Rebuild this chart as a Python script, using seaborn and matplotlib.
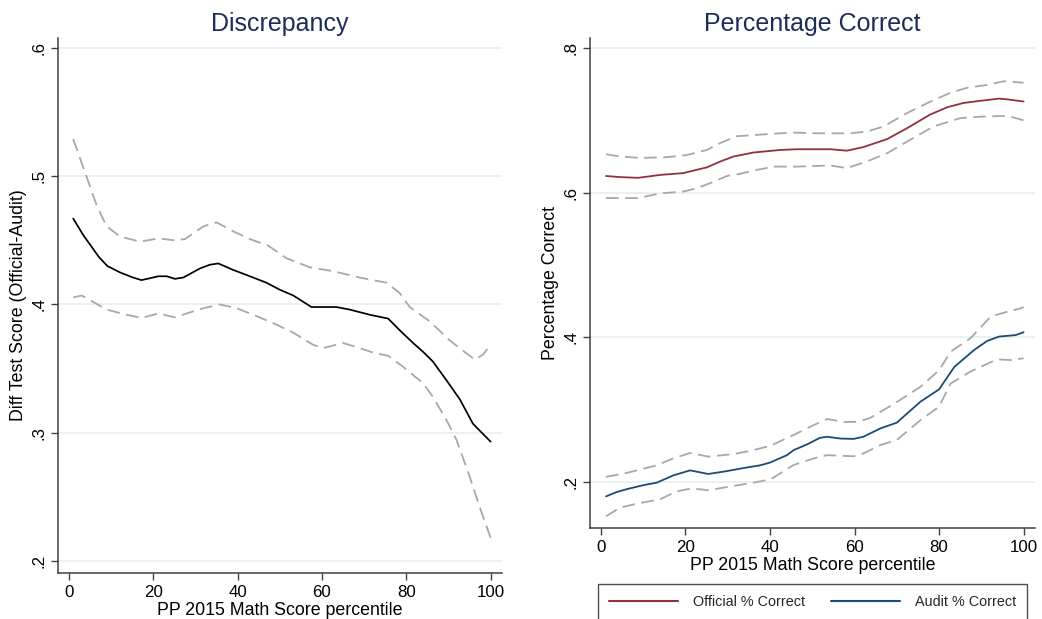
import numpy as np
import pandas as pd
import matplotlib
matplotlib.use("Agg")
import matplotlib.pyplot as plt
from matplotlib.lines import Line2D
from matplotlib.ticker import FuncFormatter, MultipleLocator
import seaborn as sns

# ---- Discrepancy (Official - Audit) by PP 2015 math percentile ----
disc_x = [1, 3.4, 7.1, 9.1, 12.1, 15.2, 17.2, 21.2, 23.2, 25.1, 27.1, 31, 33.4, 35.4,
          38.9, 42.9, 46.8, 50, 53.2, 57.5, 59.5, 63.4, 66.6, 71.3, 75.7, 78.4, 81.6,
          84, 86.3, 89.5, 92.7, 95.8, 100]
disc_y = [.467, .454, .437, .430, .425, .421, .419, .422, .422, .420, .421, .428, .431,
          .432, .427, .422, .417, .4115, .407, .398, .398, .398, .396, .392, .389, .380,
          .370, .363, .3555, .341, .326, .307, .293]

disc_hi_x = [1, 3.8, 6.6, 8.9, 12.1, 16.8, 21.2, 25.1, 27.5, 31.9, 35, 39, 42.9, 47.2,
             51.6, 57.1, 62.6, 68.9, 75.3, 78.4, 80.8, 85.5, 90.3, 94.2, 96.3, 98.2, 100]
disc_hi_y = [.529, .503, .477, .461, .453, .449, .4515, .450, .451, .461, .464, .457,
             .451, .446, .436, .429, .426, .421, .417, .409, .398, .387, .372, .362,
             .357, .361, .3685]

disc_lo_x = [1, 3, 6, 8.9, 13.7, 17.2, 21.2, 25.1, 27.9, 31.8, 35.8, 39.8, 43.7, 48.4,
             53.2, 57.9, 60.3, 65, 68.9, 72.1, 75.7, 79.2, 84, 86.3, 89.5, 91.9, 95,
             97.4, 100]
disc_lo_y = [.4055, .407, .4015, .396, .392, .3895, .393, .390, .393, .397, .400, .397,
             .392, .3855, .378, .3685, .366, .370, .366, .3625, .360, .3515, .3385,
             .328, .310, .2945, .266, .242, .218]

# ---- Percentage correct: official ----
off_x = [1.2, 4.5, 8.8, 14, 19.5, 21.9, 25.1, 28.2, 31.4, 36.1, 42.4, 46.4, 54.3, 58.2,
         62.1, 67.7, 72.4, 77.9, 81.9, 85.8, 89.8, 94.2, 96.1, 100]
off_y = [.623, .6215, .6205, .6245, .627, .6305, .635, .643, .650, .6555, .659, .660,
         .660, .658, .663, .674, .689, .708, .718, .724, .727, .730, .729, .726]

off_hi_x = [1.2, 4.5, 9.2, 15.6, 20.3, 25.1, 28.2, 32.1, 36.1, 40.8, 45.5, 51.8, 58.9,
            62.9, 66.9, 72.4, 78.7, 82.7, 86.6, 91.4, 95.3, 100]
off_hi_y = [.653, .650, .648, .649, .652, .659, .6685, .678, .6795, .6815, .683, .682,
            .682, .6845, .6915, .710, .728, .738, .745, .749, .754, .752]

off_lo_x = [1.2, 8.8, 14, 19.5, 22.6, 25.8, 29.8, 32.9, 36.1, 40.8, 46.4, 54.3, 58.2,
            62.9, 67.7, 72.4, 78.7, 85, 89.8, 94.9, 97.3, 100]
off_lo_y = [.5925, .5925, .599, .6015, .606, .613, .623, .626, .6305, .636, .636, .6375,
            .634, .643, .6545, .6705, .6915, .703, .705, .706, .7045, .700]

# ---- Percentage correct: audit ----
aud_x = [1.2, 3.7, 6.1, 10, 13.2, 17.1, 21.1, 25.4, 29.8, 34.5, 37.7, 40.1, 44, 45.6,
         48.8, 51.8, 53.5, 56.6, 59.8, 62.1, 66.1, 70, 75.6, 80, 83.6, 88.3, 91.4, 94.2,
         98.1, 100]
aud_y = [.180, .186, .190, .1955, .199, .209, .216, .211, .215, .220, .223, .227, .237,
         .244, .252, .261, .2625, .260, .2595, .2625, .274, .282, .311, .328, .359,
         .3825, .395, .401, .403, .407]

aud_hi_x = [1.2, 6.1, 13.2, 17.1, 21.1, 25.4, 31.4, 36.1, 40.1, 45.6, 50.3, 53.5, 57.4,
            60.6, 63.7, 69.2, 75.6, 80, 82.7, 87.4, 92.2, 95.3, 99.3, 100]
aud_hi_y = [.207, .2125, .223, .2325, .240, .235, .2385, .244, .250, .265, .2785, .287,
            .283, .283, .2885, .3075, .3315, .3545, .380, .3985, .4285, .434, .440, .442]

aud_lo_x = [1.2, 4.5, 8.5, 14, 17.9, 21.5, 25.4, 29.8, 36.1, 40.1, 45.6, 50.3, 53.5,
            59.8, 62.1, 66.1, 70, 75.6, 80, 82.7, 87.4, 93.7, 96.9, 100]
aud_lo_y = [.1525, .1645, .170, .176, .187, .191, .1885, .193, .199, .2035, .2235, .2325,
            .237, .2355, .2395, .251, .258, .2855, .304, .336, .3525, .3695, .3685, .371]

titles = ["Discrepancy", "Percentage Correct"]
xlabel = "PP 2015 Math Score percentile"
ylabels = ["Diff Test Score (Official-Audit)", "Percentage Correct"]
legend_labels = ["Official % Correct", "Audit % Correct"]

# ---- style ----
sns.set_theme(style="white")
plt.rcParams["font.family"] = ["Liberation Sans", "DejaVu Sans"]

TITLE_C = "#1c2d58"
RED = "#93303d"
BLUE = "#1d4a73"
CI_C = "#a8a8a8"
GRID_C = "#e4edf0"
SPINE_C = "#404040"
DASH = (0, (7, 3.6))

fig = plt.figure(figsize=(10.42, 6.19), dpi=100)
ax1 = fig.add_axes([0.0557, 0.0743, 0.4261, 0.8643])
ax2 = fig.add_axes([0.5662, 0.1470, 0.4271, 0.7916])


def style_axes(ax, ylim, ystep, title, ylabel):
    ax.set_xlim(-2.6, 102.7)
    ax.set_ylim(*ylim)
    ax.xaxis.set_major_locator(MultipleLocator(20))
    ax.yaxis.set_major_locator(MultipleLocator(ystep))
    ax.yaxis.set_major_formatter(FuncFormatter(lambda v, p: f"{v:.1f}".lstrip("0")))
    ax.xaxis.set_major_formatter(FuncFormatter(lambda v, p: f"{v:.0f}"))
    ax.grid(axis="y", color=GRID_C, linewidth=1.1)
    ax.grid(axis="x", visible=False)
    ax.set_axisbelow(True)
    for s in ["top", "right"]:
        ax.spines[s].set_visible(False)
    for s in ["left", "bottom"]:
        ax.spines[s].set_color(SPINE_C)
        ax.spines[s].set_linewidth(1.1)
    ax.tick_params(axis="both", which="major", length=5, width=1.0, color=SPINE_C,
                   labelsize=12.2, labelcolor="black", direction="out", pad=3.5,
                   bottom=True, left=True)
    ax.tick_params(axis="y", labelrotation=90)
    for lab in ax.get_yticklabels():
        lab.set_va("center")
    ax.set_title(title, fontsize=18, color=TITLE_C, pad=5)
    ax.set_xlabel(xlabel, fontsize=12.8, color="black", labelpad=1.5)
    ax.set_ylabel(ylabel, fontsize=12.8, color="black", labelpad=3)


def draw(ax, x, y, color, lw, ls="-"):
    df = pd.DataFrame({"x": x, "y": y})
    sns.lineplot(data=df, x="x", y="y", ax=ax, color=color, linewidth=lw,
                 linestyle=ls, estimator=None, sort=True)


# Left: discrepancy with confidence band
draw(ax1, disc_hi_x, disc_hi_y, CI_C, 1.3, DASH)
draw(ax1, disc_lo_x, disc_lo_y, CI_C, 1.3, DASH)
draw(ax1, disc_x, disc_y, "black", 1.25)
style_axes(ax1, (0.1906, 0.6078), 0.1, titles[0], ylabels[0])

# Right: official and audit percentage correct
draw(ax2, off_hi_x, off_hi_y, CI_C, 1.3, DASH)
draw(ax2, off_lo_x, off_lo_y, CI_C, 1.3, DASH)
draw(ax2, aud_hi_x, aud_hi_y, CI_C, 1.3, DASH)
draw(ax2, aud_lo_x, aud_lo_y, CI_C, 1.3, DASH)
draw(ax2, off_x, off_y, RED, 1.3)
draw(ax2, aud_x, aud_y, BLUE, 1.3)
style_axes(ax2, (0.1363, 0.8138), 0.2, titles[1], ylabels[1])

handles = [Line2D([], [], color=RED, lw=1.5), Line2D([], [], color=BLUE, lw=1.5)]
leg = fig.legend(handles, legend_labels, ncol=2, loc="upper left",
                 bbox_to_anchor=(598 / 1042, 34 / 619, 429 / 1042, 0.001),
                 mode="expand", fontsize=10.4, frameon=True, fancybox=False,
                 handlelength=4.8, handletextpad=1.0, borderpad=0.75,
                 borderaxespad=0.0)
leg.get_frame().set_edgecolor("#222222")
leg.get_frame().set_linewidth(1.0)

fig.savefig("out.png", dpi=100)
